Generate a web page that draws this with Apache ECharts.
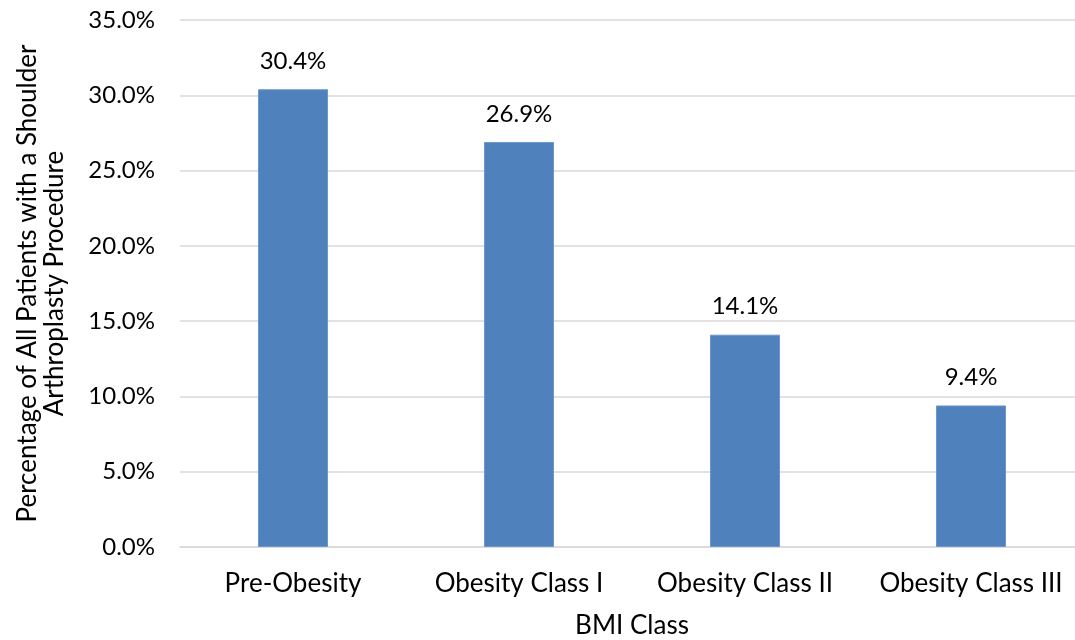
<!DOCTYPE html>
<html>
<head>
<meta charset="utf-8">
<script src="https://cdn.jsdelivr.net/npm/echarts@6/dist/echarts.min.js"></script>
<style>html,body{margin:0;padding:0;background:#fff}#c{width:1075px;height:640px}</style>
</head>
<body>
<div id="c"></div>
<script>
var categories = ["Pre-Obesity", "Obesity Class I", "Obesity Class II", "Obesity Class III"];
var values = [30.4, 26.9, 14.1, 9.4];
var yTicks = [0, 5, 10, 15, 20, 25, 30, 35];

var FONT = "Lato";
var chart = echarts.init(document.getElementById('c'));
chart.setOption({
  animation: false,
  grid: {left: 180, right: -9, top: 20, bottom: 93, containLabel: false, outerBoundsMode: 'none'},
  xAxis: {
    type: 'category',
    data: categories,
    name: 'BMI Class',
    nameLocation: 'middle',
    nameGap: 66,
    nameTextStyle: {fontFamily: FONT, fontSize: 26, color: '#000'},
    axisLine: {lineStyle: {color: '#d9d9d9', width: 1.5}},
    axisTick: {show: false},
    axisLabel: {fontFamily: FONT, fontSize: 26, color: '#000', margin: 24, interval: 0, hideOverlap: false}
  },
  yAxis: {
    type: 'value',
    min: yTicks[0],
    max: yTicks[yTicks.length - 1],
    interval: 5,
    name: 'Percentage of All Patients with a Shoulder\nArthroplasty Procedure',
    nameLocation: 'middle',
    nameGap: 112,
    nameRotate: 90,
    nameTextStyle: {fontFamily: FONT, fontSize: 26, color: '#000', lineHeight: 27},
    axisLine: {show: false},
    axisTick: {show: false},
    splitLine: {lineStyle: {color: '#d9d9d9', width: 1.5}},
    axisLabel: {fontFamily: FONT, fontSize: 24, color: '#000', margin: 25,
      formatter: function (v) { return v.toFixed(1) + '%'; }}
  },
  series: [{
    type: 'bar',
    data: values,
    barWidth: '31%',
    itemStyle: {color: '#4f81bd', borderColor: '#6b97cc', borderWidth: 1},
    label: {show: true, position: 'top', distance: 16, fontFamily: FONT, fontSize: 24, color: '#000',
      formatter: function (p) { return p.value.toFixed(1) + '%'; }}
  }]
});
</script>
</body>
</html>
